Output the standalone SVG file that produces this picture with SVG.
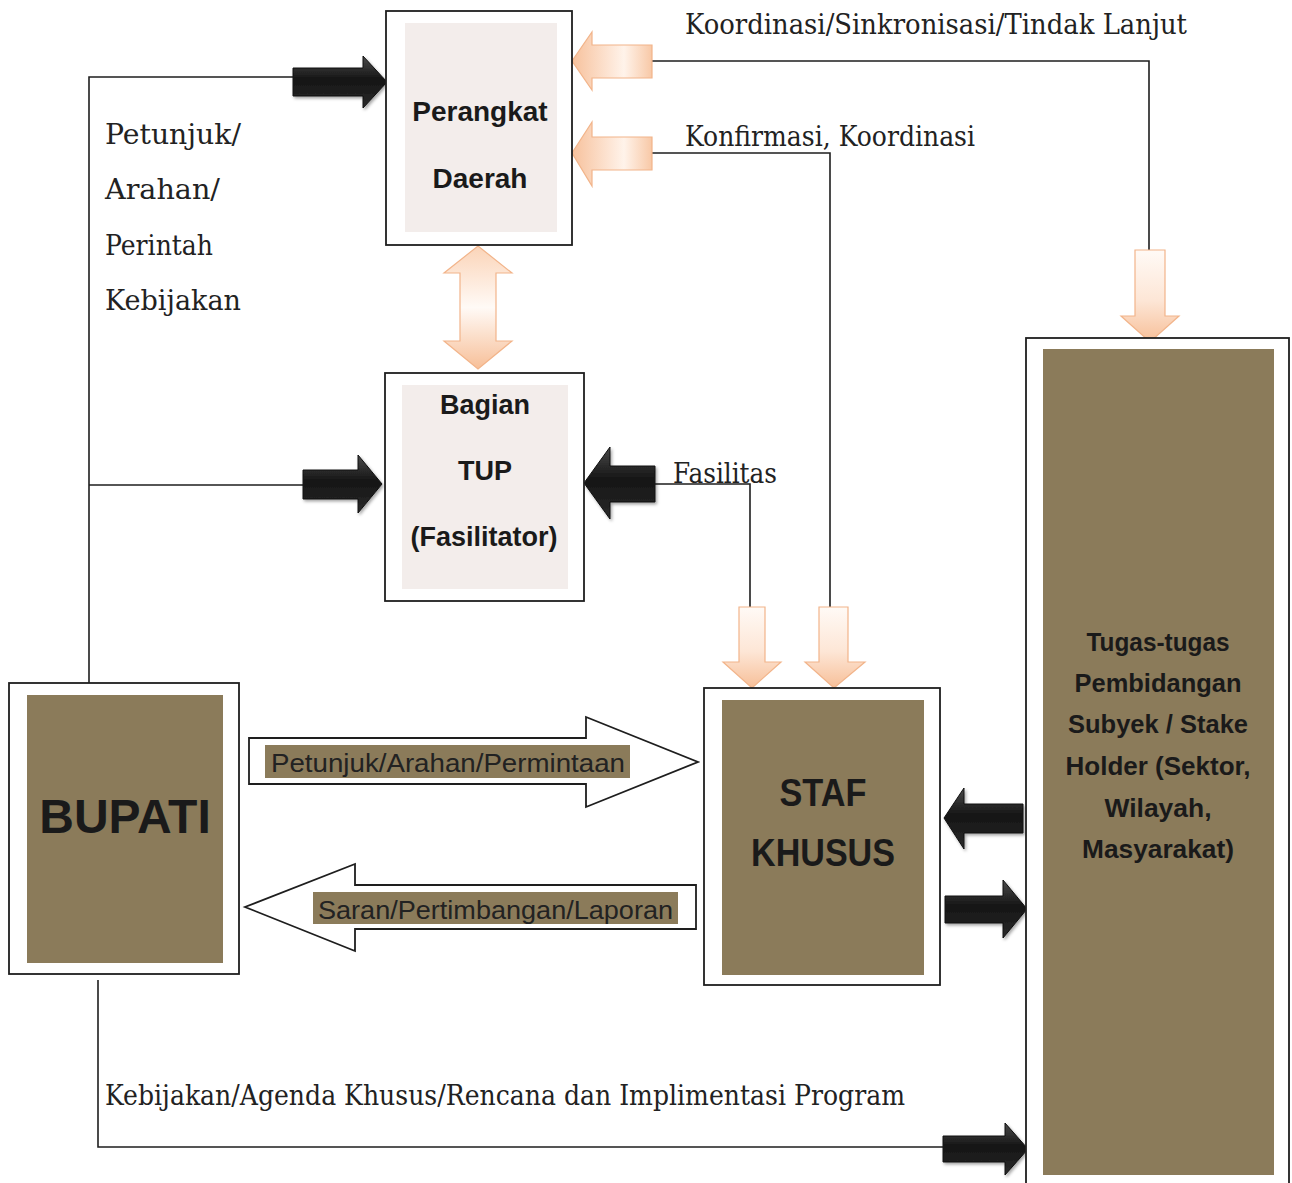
<svg xmlns="http://www.w3.org/2000/svg" width="1292" height="1183" viewBox="0 0 1292 1183">
<defs>
<style>
.box{fill:#fff;stroke:#1e1e1e;stroke-width:1.8}
.light{fill:#f3edeb}
.olive{fill:#8b7b5a}
.line{fill:none;stroke:#1e1e1e;stroke-width:1.6}
.blk{fill:url(#gBlack);stroke:#111;stroke-width:1;filter:url(#shadow)}
.orV{fill:url(#gOrV);stroke:#f2b48a;stroke-width:1.2}
.orH{fill:url(#gOrH);stroke:#f2b48a;stroke-width:1.2}
.orD{fill:url(#gOrD);stroke:#f2b48a;stroke-width:1.2}
.wa{fill:#fff;stroke:#1e1e1e;stroke-width:1.8}
.serif{font-family:"DejaVu Serif","Liberation Serif",serif;font-size:27px;fill:#222}
.bold{font-family:"Liberation Sans",Arial,sans-serif;font-weight:bold;fill:#1a1a1a;text-anchor:middle}
.lab{font-family:"Liberation Sans",Arial,sans-serif;font-size:25px;fill:#222}
</style>
<linearGradient id="gBlack" x1="0" y1="0" x2="0" y2="1">
<stop offset="0" stop-color="#4a4a4a"/><stop offset="0.45" stop-color="#151515"/><stop offset="1" stop-color="#2a2a2a"/>
</linearGradient>
<linearGradient id="gOrV" x1="0" y1="0" x2="0" y2="1">
<stop offset="0" stop-color="#fffaf6"/><stop offset="0.55" stop-color="#fde6d6"/><stop offset="1" stop-color="#f7bf98"/>
</linearGradient>
<linearGradient id="gOrH" x1="1" y1="0" x2="0" y2="0">
<stop offset="0" stop-color="#f8c8a6"/><stop offset="0.35" stop-color="#fff3ea"/><stop offset="1" stop-color="#f7c19c"/>
</linearGradient>
<linearGradient id="gOrD" x1="0" y1="0" x2="0" y2="1">
<stop offset="0" stop-color="#fbd4b8"/><stop offset="0.5" stop-color="#fffaf6"/><stop offset="1" stop-color="#f7bf98"/>
</linearGradient>
<filter id="shadow" x="-20%" y="-20%" width="140%" height="140%">
<feDropShadow dx="1.5" dy="2" stdDeviation="1.5" flood-color="#000" flood-opacity="0.35"/>
</filter>
</defs>
<rect width="1292" height="1183" fill="#fff"/>

<g id="connectors">
<path class="line" d="M89,683 V77 H295"/>
<path class="line" d="M89,485 H305"/>
<path class="line" d="M650,61 H1149 V251"/>
<path class="line" d="M650,153 H830 V609"/>
<path class="line" d="M653,484 H750 V609"/>
<path class="line" d="M98,980 V1147 H945"/>
<path class="blk" d="M293,68 H363 V56 L387,82 L363,108 V96 H293 Z"/>
<path class="blk" d="M303,470 H358 V455 L382,484 L358,513 V499 H303 Z"/>
<path class="blk" d="M655,466 H610 V447 L584,483 L610,519 V502 H655 Z"/>
<path class="blk" d="M1023,804 H964 V788 L944,818 L964,849 V833 H1023 Z"/>
<path class="blk" d="M945,896 H1003 V880 L1027,909 L1003,938 V923 H945 Z"/>
<path class="blk" d="M943,1136 H1005 V1123 L1028,1149 L1005,1175 V1162 H943 Z"/>
<path class="orH" d="M652,45 H592 V32 L572,61 L592,90 V78 H652 Z"/>
<path class="orH" d="M652,137 H592 V122 L572,153 L592,186 V170 H652 Z"/>
<path class="orD" d="M478,246 L512,273 H496 V341 H512 L478,369 L444,341 H460 V273 H444 Z"/>
<path class="orV" d="M1135,250 H1165 V316 H1179 L1150,342 L1121,316 H1135 Z"/>
<path class="orV" d="M739,607 H765 V662 H781 L752,688 L723,662 H739 Z"/>
<path class="orV" d="M819,607 H848 V662 H865 L834,688 L805,662 H819 Z"/>
<path class="wa" d="M249,738 H586 V717 L698,762 L586,807 V784 H249 Z"/>
<rect class="olive" x="265" y="745" width="365" height="33"/>
<text class="lab" x="271" y="772" textLength="354" lengthAdjust="spacingAndGlyphs">Petunjuk/Arahan/Permintaan</text>
<path class="wa" d="M696,885 H355 V864 L245,907 L355,951 V929 H696 Z"/>
<rect class="olive" x="313" y="892" width="365" height="32"/>
<text class="lab" x="318" y="919" textLength="355" lengthAdjust="spacingAndGlyphs">Saran/Pertimbangan/Laporan</text>
<text class="serif" x="685" y="34" textLength="502" lengthAdjust="spacingAndGlyphs">Koordinasi/Sinkronisasi/Tindak Lanjut</text>
<text class="serif" x="685" y="146" textLength="290" lengthAdjust="spacingAndGlyphs">Konfirmasi, Koordinasi</text>
<text class="serif" x="673" y="483" textLength="104" lengthAdjust="spacingAndGlyphs">Fasilitas</text>
<text class="serif" x="105" y="144" textLength="136" lengthAdjust="spacingAndGlyphs">Petunjuk/</text>
<text class="serif" x="105" y="199" textLength="115" lengthAdjust="spacingAndGlyphs">Arahan/</text>
<text class="serif" x="105" y="255" textLength="108" lengthAdjust="spacingAndGlyphs">Perintah</text>
<text class="serif" x="105" y="310" textLength="136" lengthAdjust="spacingAndGlyphs">Kebijakan</text>
<text class="serif" x="105" y="1105" textLength="800" lengthAdjust="spacingAndGlyphs">Kebijakan/Agenda Khusus/Rencana dan Implimentasi Program</text>
</g>

<g id="perangkat-daerah">
<rect class="box" x="386" y="11" width="186" height="234"/>
<rect class="light" x="405" y="23" width="152" height="209"/>
<text class="bold" x="480" y="121" font-size="28">Perangkat</text>
<text class="bold" x="480" y="188" font-size="28">Daerah</text>
</g>

<g id="bagian-tup">
<rect class="box" x="385" y="373" width="199" height="228"/>
<rect class="light" x="402" y="385" width="166" height="204"/>
<text class="bold" x="485" y="414" font-size="27">Bagian</text>
<text class="bold" x="485" y="480" font-size="27">TUP</text>
<text class="bold" x="484" y="546" font-size="27">(Fasilitator)</text>
</g>

<g id="bupati">
<rect class="box" x="9" y="683" width="230" height="291"/>
<rect class="olive" x="27" y="695" width="196" height="268"/>
<text class="bold" x="125" y="833" font-size="48">BUPATI</text>
</g>

<g id="staf-khusus">
<rect class="box" x="704" y="688" width="236" height="297"/>
<rect class="olive" x="722" y="700" width="202" height="275"/>
<text class="bold" x="823" y="806" font-size="38" textLength="87" lengthAdjust="spacingAndGlyphs">STAF</text>
<text class="bold" x="823" y="866" font-size="38" textLength="144" lengthAdjust="spacingAndGlyphs">KHUSUS</text>
</g>

<g id="tugas-tugas">
<rect class="box" x="1026" y="338" width="263" height="870"/>
<rect class="olive" x="1043" y="349" width="231" height="826"/>
<text class="bold" x="1158" y="651" font-size="25" textLength="143" lengthAdjust="spacingAndGlyphs">Tugas-tugas</text>
<text class="bold" x="1158" y="692" font-size="25" textLength="167" lengthAdjust="spacingAndGlyphs">Pembidangan</text>
<text class="bold" x="1158" y="733" font-size="25" textLength="180" lengthAdjust="spacingAndGlyphs">Subyek / Stake</text>
<text class="bold" x="1158" y="775" font-size="25" textLength="185" lengthAdjust="spacingAndGlyphs">Holder (Sektor,</text>
<text class="bold" x="1158" y="817" font-size="25" textLength="107" lengthAdjust="spacingAndGlyphs">Wilayah,</text>
<text class="bold" x="1158" y="858" font-size="25" textLength="152" lengthAdjust="spacingAndGlyphs">Masyarakat)</text>
</g>
</svg>
